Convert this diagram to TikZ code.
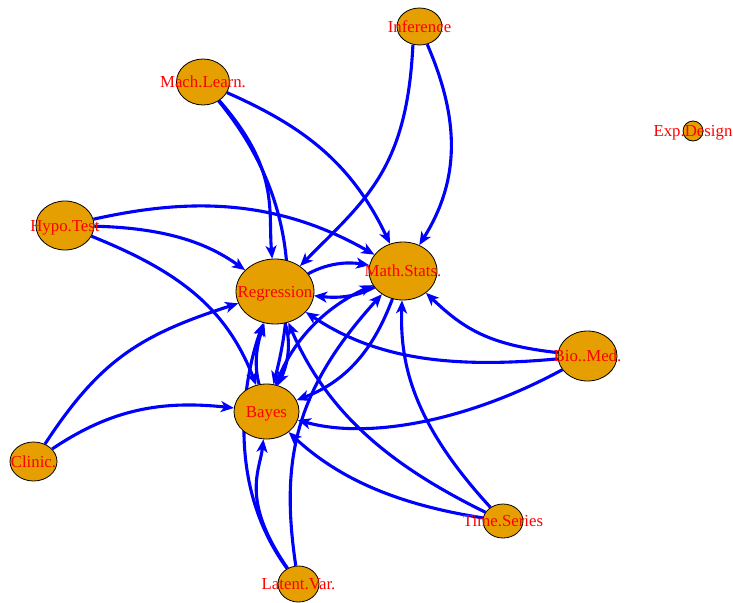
\documentclass[tikz,border=0pt]{standalone}
\usepackage{fontspec}
\setmainfont{Liberation Serif}
\usetikzlibrary{shapes.geometric,arrows.meta,backgrounds}
\definecolor{vfill}{HTML}{E69F00}
\definecolor{eblue}{HTML}{0000FF}
\definecolor{lred}{HTML}{FF0000}
\begin{document}
\begin{tikzpicture}[x=1pt,y=-1pt,
  vtx/.style={ellipse,draw=black,line width=0.8pt,fill=vfill,inner sep=0pt},
  lbl/.style={text=lred,font=\fontsize{16.8}{18}\selectfont,inner sep=0pt,text height=11.4pt,text depth=0pt},
  edg/.style={draw=eblue,line width=3.1pt,-{Stealth[length=13pt,width=11pt,inset=3.5pt]}}]
\useasboundingbox (0,0) rectangle (733,602);
% vertices
\node[vtx,minimum width=45pt,minimum height=37pt] (inf) at (419.5,26.5) {};
\node[vtx,minimum width=53pt,minimum height=46pt] (ml) at (203,82) {};
\node[vtx,minimum width=58pt,minimum height=49pt] (hypo) at (65,225.5) {};
\node[vtx,minimum width=47pt,minimum height=39pt] (clin) at (33.5,461.5) {};
\node[vtx,minimum width=78pt,minimum height=65pt] (reg) at (275,291.5) {};
\node[vtx,minimum width=68pt,minimum height=58pt] (ms) at (403,271) {};
\node[vtx,minimum width=65pt,minimum height=55pt] (bay) at (266.5,411.5) {};
\node[vtx,minimum width=59pt,minimum height=50pt] (bio) at (587.5,356) {};
\node[vtx,minimum width=40pt,minimum height=34pt] (ts) at (503,521) {};
\node[vtx,minimum width=41pt,minimum height=36pt] (lv) at (298.5,584) {};
\node[vtx,minimum width=20pt,minimum height=20pt] (exd) at (693,131) {};
% edges
\begin{scope}[on background layer]
\draw[edg] (inf.250) .. controls (407,170) and (365,200) .. (reg);
\draw[edg] (inf) .. controls (460,120) and (460,180) .. (ms);
\draw[edg] (ml) .. controls (300,125) and (350,160) .. (ms);
\draw[edg] (ml) .. controls (280,170) and (268,210) .. (reg);
\draw[edg] (ml) .. controls (300,200) and (295,300) .. (bay);
\draw[edg] (hypo) .. controls (180,200) and (270,195) .. (ms);
\draw[edg] (hypo) .. controls (170,228) and (210,245) .. (reg);
\draw[edg] (hypo) .. controls (175,270) and (225,305) .. (bay);
\draw[edg] (clin) .. controls (100,360) and (140,335) .. (reg);
\draw[edg] (clin) .. controls (110,410) and (160,400) .. (bay);
\draw[edg] (reg) .. controls (330,262) and (350,262) .. (ms);
\draw[edg] (ms) .. controls (355,298) and (335,298) .. (reg);
\draw[edg] (reg) .. controls (292,345) and (287,365) .. (bay);
\draw[edg] (bay) .. controls (253,362) and (258,342) .. (reg);
\draw[edg] (bay) .. controls (290,345) and (320,310) .. (ms);
\draw[edg] (ms) .. controls (375,345) and (350,380) .. (bay);
\draw[edg] (bio) .. controls (490,345) and (465,330) .. (ms);
\draw[edg] (bio) .. controls (440,370) and (370,355) .. (reg);
\draw[edg] (bio) .. controls (470,420) and (370,440) .. (bay);
\draw[edg] (ts) .. controls (400,505) and (340,480) .. (bay);
\draw[edg] (ts) .. controls (400,470) and (330,420) .. (reg);
\draw[edg] (ts) .. controls (410,420) and (400,360) .. (ms);
\draw[edg] (lv) .. controls (240,500) and (260,470) .. (bay);
\draw[edg] (lv) .. controls (222,480) and (246,370) .. (reg);
\draw[edg] (lv) .. controls (280,460) and (295,390) .. (ms);
\end{scope}
% labels
\node[lbl] (inf-l) at (inf) {Inference};
\node[lbl] (ml-l) at (ml) {Mach.Learn.};
\node[lbl] (hypo-l) at (hypo) {Hypo.Test};
\node[lbl] (clin-l) at (clin) {Clinic.};
\node[lbl] (reg-l) at (reg) {Regression};
\node[lbl] (ms-l) at (ms) {Math.Stats.};
\node[lbl] (bay-l) at (bay) {Bayes};
\node[lbl] (bio-l) at (bio) {Bio..Med.};
\node[lbl] (ts-l) at (ts) {Time.Series};
\node[lbl] (lv-l) at (lv) {Latent.Var.};
\node[lbl] (exd-l) at (exd) {Exp.Design};
\end{tikzpicture}
\end{document}
